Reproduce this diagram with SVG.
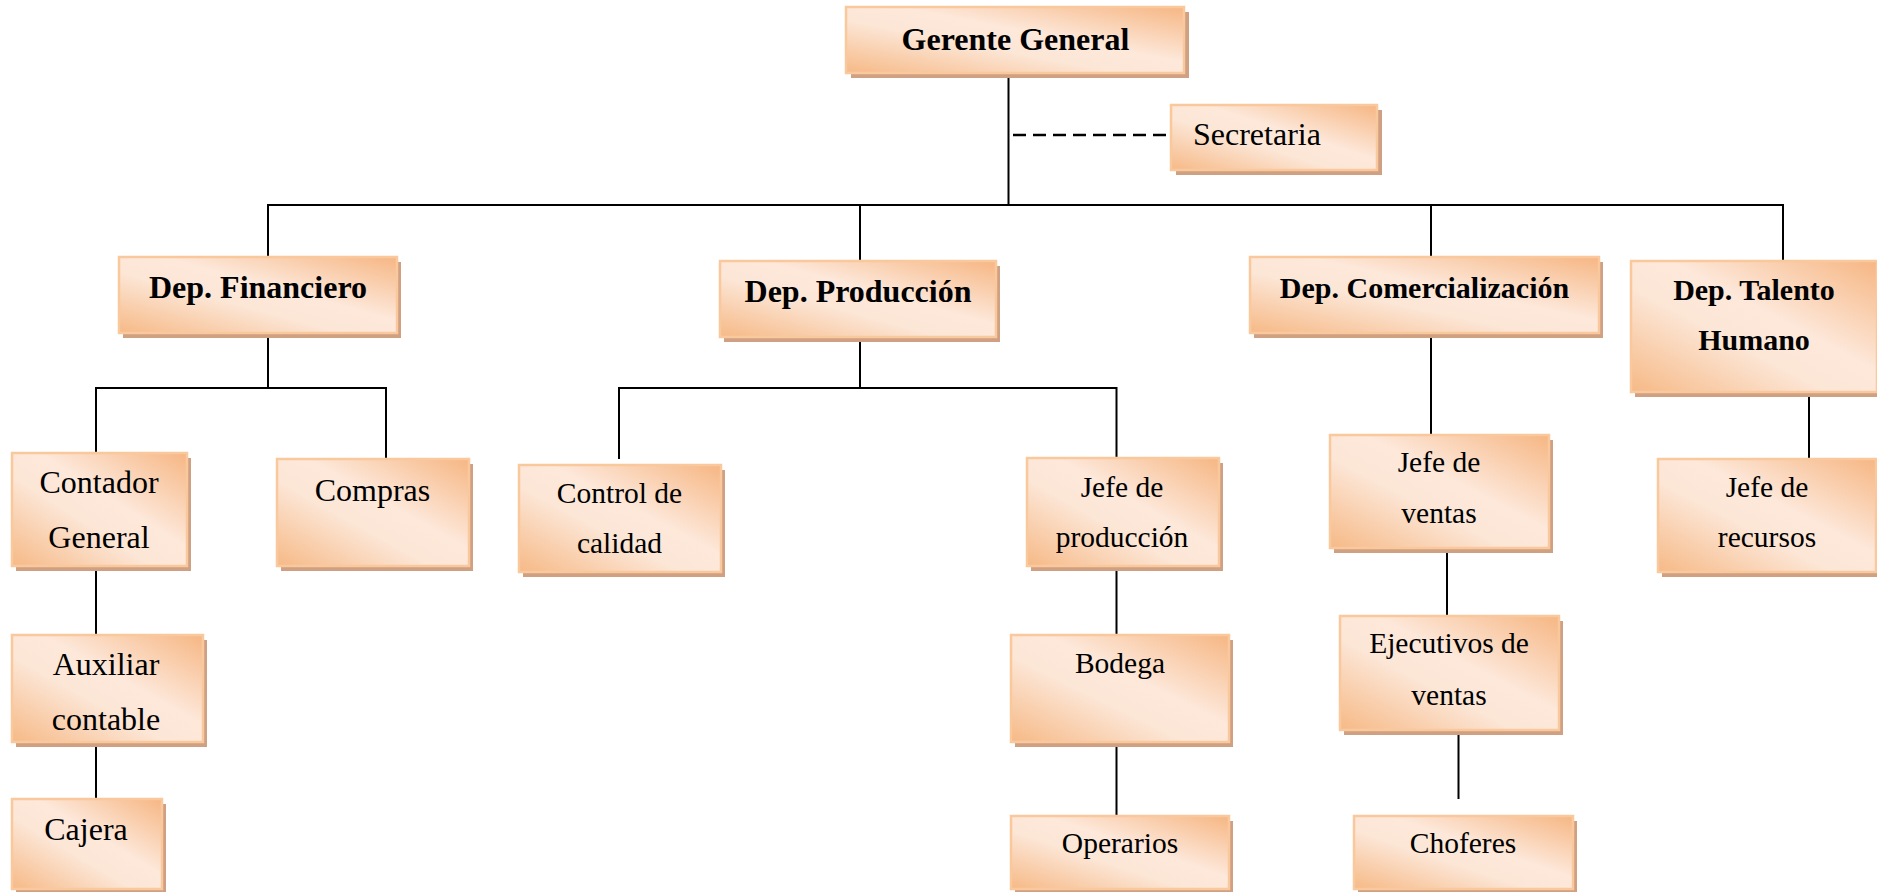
<svg xmlns="http://www.w3.org/2000/svg" width="1877" height="892" viewBox="0 0 1877 892">
  <defs>
    <!-- peach fill: darker orange at top-right and bottom-left corners, pale through the middle -->
    <linearGradient id="peach" x1="1" y1="0" x2="0" y2="1">
      <stop offset="0" stop-color="#f6b683"/>
      <stop offset="0.42" stop-color="#fde8da"/>
      <stop offset="0.6" stop-color="#fce6d6"/>
      <stop offset="1" stop-color="#f6b986"/>
    </linearGradient>
  </defs>
  <style>
    .shadow { fill: #cfa182; }
    .box { fill: url(#peach); stroke: #f9c89c; stroke-width: 2.5; }
    .t { font-family: "Liberation Serif", "Times New Roman", serif; fill: #000; text-anchor: middle; }
    .b { font-weight: bold; }
    .s32 { font-size: 32px; }
    .s30 { font-size: 30px; }
    .s29 { font-size: 29.5px; }
    .ln { stroke: #000; stroke-width: 2; fill: none; }
    .dash { stroke: #000; stroke-width: 2.5; stroke-dasharray: 13 7; fill: none; }
  </style>

  <rect width="1877" height="892" fill="#fff"/>

  <!-- connectors -->
  <g id="connectors">
    <path class="ln" d="M1008.5 73 V205"/>
    <path class="dash" d="M1013 135 H1171"/>
    <path class="ln" d="M268 257 V205 H1783 V261 M860 205 V261 M1431 205 V257"/>
    <!-- Dep. Financiero -->
    <path class="ln" d="M268 333 V388 M96 453 V388 H386 V459"/>
    <path class="ln" d="M96 566 V635 M96 742 V799"/>
    <!-- Dep. Producción -->
    <path class="ln" d="M860 337 V388 M619 459 V388 H1116.5 V458"/>
    <path class="ln" d="M1116.5 566 V635 M1116.5 742 V816"/>
    <!-- Dep. Comercialización -->
    <path class="ln" d="M1431 333 V435 M1447 548 V616 M1458.5 730 V799"/>
    <!-- Dep. Talento Humano -->
    <path class="ln" d="M1809 390 V459"/>
  </g>

  <g id="gerente-general">
    <rect class="shadow" x="851" y="12" width="338" height="66"/>
    <rect class="box" x="846" y="7" width="338" height="66"/>
    <text class="t b s32" x="1015.5" y="50">Gerente General</text>
  </g>

  <g id="secretaria">
    <rect class="shadow" x="1176" y="110" width="206" height="65"/>
    <rect class="box" x="1171" y="105" width="206" height="65"/>
    <text class="t s32" x="1193" y="145" style="text-anchor:start">Secretaria</text>
  </g>

  <g id="dep-financiero">
    <rect class="shadow" x="123" y="262" width="278" height="76"/>
    <rect class="box" x="119" y="257" width="278" height="76"/>
    <text class="t b s32" x="258" y="298">Dep. Financiero</text>
  </g>

  <g id="dep-produccion">
    <rect class="shadow" x="724" y="266" width="276" height="76"/>
    <rect class="box" x="720" y="261" width="276" height="76"/>
    <text class="t b s32" x="858" y="302">Dep. Producción</text>
  </g>

  <g id="dep-comercializacion">
    <rect class="shadow" x="1254" y="262" width="349" height="76"/>
    <rect class="box" x="1250" y="257" width="349" height="76"/>
    <text class="t b s30" x="1424.5" y="298">Dep. Comercialización</text>
  </g>

  <g id="dep-talento-humano">
    <rect class="shadow" x="1635" y="266" width="246" height="131"/>
    <rect class="box" x="1631" y="261" width="246" height="131"/>
    <text class="t b s30" x="1754" y="300">Dep. Talento</text>
    <text class="t b s30" x="1754" y="350">Humano</text>
  </g>

  <g id="contador-general">
    <rect class="shadow" x="16" y="458" width="175" height="113"/>
    <rect class="box" x="12" y="453" width="175" height="113"/>
    <text class="t s32" x="99" y="493">Contador</text>
    <text class="t s32" x="99" y="548">General</text>
  </g>

  <g id="compras">
    <rect class="shadow" x="281" y="464" width="192" height="107"/>
    <rect class="box" x="277" y="459" width="192" height="107"/>
    <text class="t s32" x="372.5" y="501">Compras</text>
  </g>

  <g id="auxiliar-contable">
    <rect class="shadow" x="16" y="640" width="191" height="107"/>
    <rect class="box" x="12" y="635" width="191" height="107"/>
    <text class="t s32" x="106" y="675">Auxiliar</text>
    <text class="t s32" x="106" y="730">contable</text>
  </g>

  <g id="cajera">
    <rect class="shadow" x="16" y="804" width="150" height="90"/>
    <rect class="box" x="12" y="799" width="150" height="90"/>
    <text class="t s32" x="86" y="840">Cajera</text>
  </g>

  <g id="control-de-calidad">
    <rect class="shadow" x="523" y="470" width="202" height="107"/>
    <rect class="box" x="519" y="465" width="202" height="107"/>
    <text class="t s29" x="619.5" y="503">Control de</text>
    <text class="t s29" x="619.5" y="553">calidad</text>
  </g>

  <g id="jefe-de-produccion">
    <rect class="shadow" x="1031" y="463" width="192" height="108"/>
    <rect class="box" x="1027" y="458" width="192" height="108"/>
    <text class="t s29" x="1122" y="497">Jefe de</text>
    <text class="t s29" x="1122" y="547">producción</text>
  </g>

  <g id="bodega">
    <rect class="shadow" x="1015" y="640" width="218" height="107"/>
    <rect class="box" x="1011" y="635" width="218" height="107"/>
    <text class="t s29" x="1120" y="673">Bodega</text>
  </g>

  <g id="operarios">
    <rect class="shadow" x="1015" y="821" width="218" height="73"/>
    <rect class="box" x="1011" y="816" width="218" height="73"/>
    <text class="t s29" x="1120" y="853">Operarios</text>
  </g>

  <g id="jefe-de-ventas">
    <rect class="shadow" x="1334" y="440" width="219" height="113"/>
    <rect class="box" x="1330" y="435" width="219" height="113"/>
    <text class="t s29" x="1439" y="472">Jefe de</text>
    <text class="t s29" x="1439" y="523">ventas</text>
  </g>

  <g id="ejecutivos-de-ventas">
    <rect class="shadow" x="1344" y="621" width="219" height="114"/>
    <rect class="box" x="1340" y="616" width="219" height="114"/>
    <text class="t s29" x="1449" y="653">Ejecutivos de</text>
    <text class="t s29" x="1449" y="705">ventas</text>
  </g>

  <g id="choferes">
    <rect class="shadow" x="1358" y="821" width="219" height="73"/>
    <rect class="box" x="1354" y="816" width="219" height="73"/>
    <text class="t s29" x="1463" y="853">Choferes</text>
  </g>

  <g id="jefe-de-recursos">
    <rect class="shadow" x="1662" y="464" width="218" height="113"/>
    <rect class="box" x="1658" y="459" width="218" height="113"/>
    <text class="t s29" x="1767" y="497">Jefe de</text>
    <text class="t s29" x="1767" y="547">recursos</text>
  </g>
</svg>
